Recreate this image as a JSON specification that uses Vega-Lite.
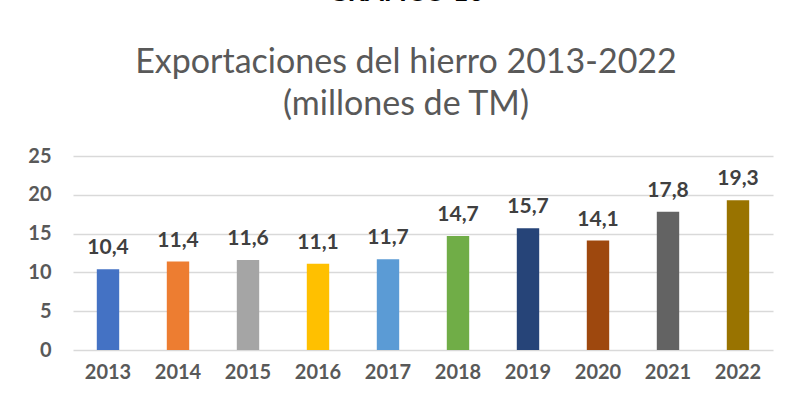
{
  "$schema": "https://vega.github.io/schema/vega-lite/v6.json",
  "width": 700,
  "height": 194,
  "autosize": {"type": "none"},
  "padding": {"left": 73, "top": 156, "right": 17, "bottom": 53},
  "background": "white",
  "title": {
    "text": "GRÁFICO 10",
    "subtitle": ["Exportaciones del hierro 2013-2022", "(millones de TM)"],
    "anchor": "middle",
    "dx": -17,
    "font": "Lato",
    "fontSize": 27,
    "fontWeight": "bold",
    "color": "#000000",
    "subtitleFont": "Lato",
    "subtitleFontSize": 34,
    "subtitleFontWeight": "normal",
    "subtitleColor": "#595959",
    "subtitleLineHeight": 42,
    "subtitlePadding": 39,
    "offset": 23
  },
  "data": {
    "values": [
      {"year": "2013", "value": 10.4, "label": "10,4"},
      {"year": "2014", "value": 11.4, "label": "11,4"},
      {"year": "2015", "value": 11.6, "label": "11,6"},
      {"year": "2016", "value": 11.1, "label": "11,1"},
      {"year": "2017", "value": 11.7, "label": "11,7"},
      {"year": "2018", "value": 14.7, "label": "14,7"},
      {"year": "2019", "value": 15.7, "label": "15,7"},
      {"year": "2020", "value": 14.1, "label": "14,1"},
      {"year": "2021", "value": 17.8, "label": "17,8"},
      {"year": "2022", "value": 19.3, "label": "19,3"}
    ]
  },
  "encoding": {
    "x": {
      "field": "year",
      "type": "nominal",
      "sort": null,
      "scale": {"paddingInner": 0.68, "paddingOuter": 0.34},
      "axis": {
        "title": null,
        "labelAngle": 0,
        "labelFont": "Lato",
        "labelFontSize": 20,
        "labelFontWeight": "bold",
        "labelColor": "#595959",
        "labelPadding": 12,
        "ticks": false,
        "domain": false,
        "grid": false
      }
    },
    "y": {
      "field": "value",
      "type": "quantitative",
      "scale": {"domain": [0, 25], "nice": false},
      "axis": {
        "title": null,
        "values": [0, 5, 10, 15, 20, 25],
        "labelFont": "Lato",
        "labelFontSize": 20,
        "labelFontWeight": "bold",
        "labelColor": "#595959",
        "labelPadding": 22,
        "ticks": false,
        "domain": false,
        "grid": true,
        "gridColor": "#d9d9d9",
        "gridWidth": 1.5
      }
    }
  },
  "layer": [
    {
      "mark": {"type": "bar"},
      "encoding": {
        "color": {
          "field": "year",
          "type": "nominal",
          "sort": null,
          "legend": null,
          "scale": {
            "range": ["#4472C4", "#ED7D31", "#A5A5A5", "#FFC000", "#5B9BD5", "#70AD47", "#264478", "#9E480E", "#636363", "#997300"]
          }
        }
      }
    },
    {
      "mark": {"type": "text", "baseline": "bottom", "dy": -11, "font": "Lato", "fontSize": 21, "fontWeight": "bold", "color": "#404040"},
      "encoding": {"text": {"field": "label"}}
    }
  ],
  "config": {"view": {"stroke": null}}
}
